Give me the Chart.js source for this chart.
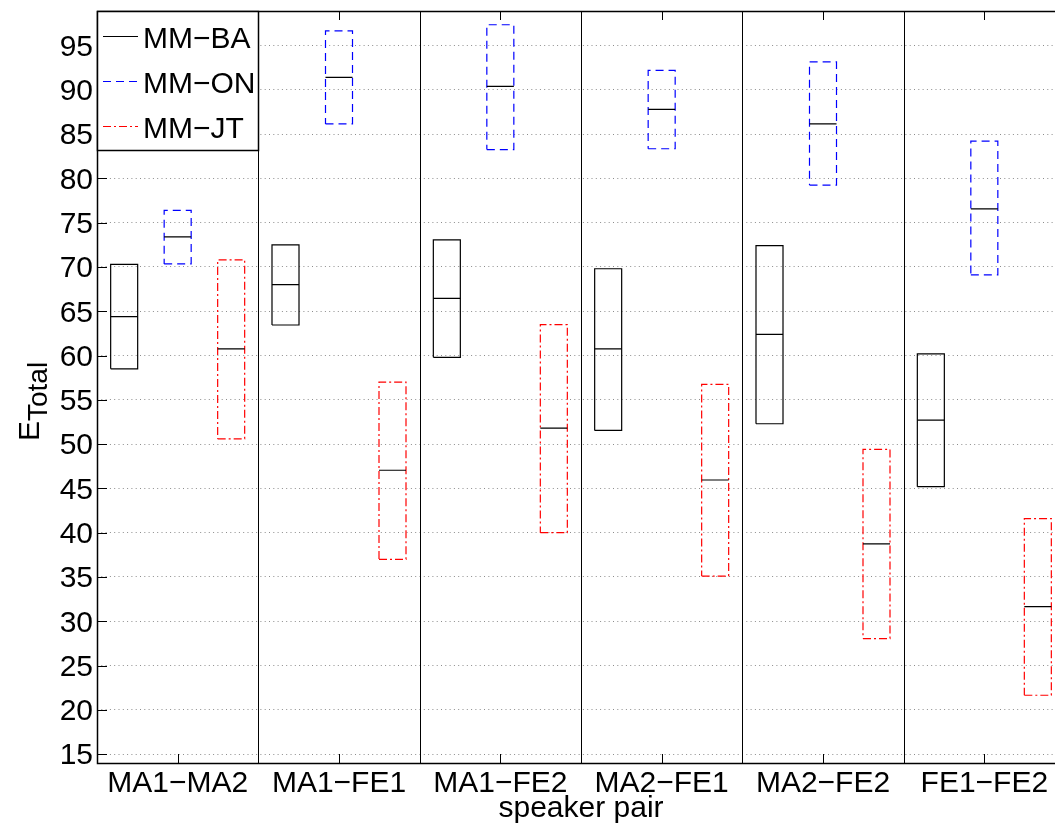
<!DOCTYPE html>
<html>
<head>
<meta charset="utf-8">
<script src="https://cdn.jsdelivr.net/npm/chart.js@4.4.1/dist/chart.umd.min.js"></script>
<style>
  html, body { margin: 0; padding: 0; background: #fff; overflow: hidden; }
</style>
</head>
<body>
<canvas id="boxChart" width="1070" height="828"></canvas>
<script>
// categories and series
var pairs = ['MA1\u2212MA2', 'MA1\u2212FE1', 'MA1\u2212FE2', 'MA2\u2212FE1', 'MA2\u2212FE2', 'FE1\u2212FE2'];
var methods = ['MM\u2212BA', 'MM\u2212ON', 'MM\u2212JT'];
var yTicks = [15, 20, 25, 30, 35, 40, 45, 50, 55, 60, 65, 70, 75, 80, 85, 90, 95];

// box bounds (lower edge, median, upper edge)
var baLow  = [58.5, 63.45, 59.8, 51.55, 52.3, 45.2];
var baMed  = [64.4, 68.0, 66.45, 60.75, 62.4, 52.7];
var baHigh = [70.3, 72.5, 73.05, 69.8, 72.4, 60.2];

var onLow  = [70.35, 86.15, 83.25, 83.35, 79.25, 69.1];
var onMed  = [73.4, 91.4, 90.4, 87.8, 86.15, 76.55];
var onHigh = [76.4, 96.65, 97.35, 92.2, 93.15, 84.2];

var jtLow  = [50.6, 37.0, 40.0, 35.1, 28.05, 21.65];
var jtMed  = [60.75, 47.05, 51.8, 45.95, 38.75, 31.65];
var jtHigh = [70.8, 57.0, 63.5, 56.75, 49.4, 41.6];

var FONT = 'Liberation Sans, Arial, Helvetica, sans-serif';
var colors = ['#000000', '#0000ff', '#ff0000'];
var dashes = [[], [8, 5], [8, 3, 2, 3]];
var boxOffset = [-0.3316, 0, 0.3316];
var halfW = 0.0837;

function boxOutline(lo, hi, k) {
    var pts = [];
    for (var i = 0; i < pairs.length; i++) {
        var x0 = i + boxOffset[k] - halfW, x1 = i + boxOffset[k] + halfW;
        pts.push({x: x0, y: lo[i]}, {x: x1, y: lo[i]}, {x: x1, y: hi[i]},
                 {x: x0, y: hi[i]}, {x: x0, y: lo[i]}, {x: x1, y: null});
    }
    return pts;
}

function medianLines(med, k) {
    var pts = [];
    for (var i = 0; i < pairs.length; i++) {
        var x0 = i + boxOffset[k] - halfW, x1 = i + boxOffset[k] + halfW;
        pts.push({x: x0, y: med[i]}, {x: x1, y: med[i]}, {x: x1, y: null});
    }
    return pts;
}

function outlineSet(k, lo, hi) {
    return {
        label: methods[k],
        data: boxOutline(lo, hi, k),
        borderColor: colors[k],
        borderDash: dashes[k],
        borderWidth: 1.2,
        pointRadius: 0,
        tension: 0,
        fill: false,
        spanGaps: false,
        order: 1
    };
}

function medianSet(k, med) {
    return {
        label: methods[k] + ' median',
        data: medianLines(med, k),
        borderColor: '#000',
        borderWidth: 1.2,
        pointRadius: 0,
        tension: 0,
        fill: false,
        spanGaps: false,
        order: 0
    };
}

function px(v) { return Math.round(v) + 0.5; }

// matlab style frame, inside ticks, separators, legend and y label
var matlabFrame = {
    id: 'matlabFrame',
    afterDraw: function(chart) {
        var ctx = chart.ctx, a = chart.chartArea, xs = chart.scales.x, ys = chart.scales.y;
        ctx.save();
        ctx.strokeStyle = '#000';
        ctx.lineWidth = 1;
        ctx.setLineDash([]);
        ctx.beginPath();
        for (var i = 0; i < pairs.length - 1; i++) {
            var sx = px(xs.getPixelForValue(i + 0.5));
            ctx.moveTo(sx, a.top); ctx.lineTo(sx, a.bottom);
        }
        for (var j = 0; j < pairs.length; j++) {
            var cx = px(xs.getPixelForValue(j));
            ctx.moveTo(cx, a.bottom); ctx.lineTo(cx, a.bottom - 9);
            ctx.moveTo(cx, a.top); ctx.lineTo(cx, a.top + 9);
        }
        yTicks.forEach(function(t) {
            var ty = px(ys.getPixelForValue(t));
            ctx.moveTo(a.left, ty); ctx.lineTo(a.left + 10, ty);
        });
        ctx.stroke();
        ctx.lineWidth = 1.5;
        ctx.strokeRect(px(a.left), px(a.top), Math.round(a.right - a.left), Math.round(a.bottom - a.top));

        // legend
        var lx = px(a.left), ly = px(a.top), lw = 161, lh = 139;
        ctx.fillStyle = '#fff';
        ctx.fillRect(lx, ly, lw, lh);
        ctx.strokeRect(lx, ly, lw, lh);
        ctx.font = '30px ' + FONT;
        ctx.textAlign = 'left';
        ctx.textBaseline = 'alphabetic';
        ctx.lineWidth = 1.2;
        for (var k = 0; k < methods.length; k++) {
            var yy = a.top + 25.5 + k * 45;
            ctx.strokeStyle = colors[k];
            ctx.setLineDash(dashes[k]);
            ctx.beginPath();
            ctx.moveTo(a.left + 6, yy); ctx.lineTo(a.left + 41, yy);
            ctx.stroke();
            ctx.fillStyle = '#000';
            ctx.fillText(methods[k], a.left + 46, yy + 11);
        }
        ctx.setLineDash([]);

        // y axis label E_Total
        ctx.translate(39, 441);
        ctx.rotate(-Math.PI / 2);
        ctx.fillStyle = '#000';
        ctx.font = '30px ' + FONT;
        ctx.fillText('E', 0, 0);
        var ew = ctx.measureText('E').width;
        ctx.font = '28px ' + FONT;
        ctx.fillText('Total', ew, 8);
        ctx.restore();
    }
};

var ctx = document.getElementById('boxChart').getContext('2d');
var boxChart = new Chart(ctx, {
    type: 'line',
    data: {
        datasets: [
            outlineSet(0, baLow, baHigh),
            outlineSet(1, onLow, onHigh),
            outlineSet(2, jtLow, jtHigh),
            medianSet(0, baMed),
            medianSet(1, onMed),
            medianSet(2, jtMed)
        ]
    },
    options: {
        responsive: false,
        animation: false,
        events: [],
        layout: { padding: { left: 0, top: 11, right: 5, bottom: 0 } },
        plugins: {
            legend: { display: false },
            tooltip: { enabled: false }
        },
        scales: {
            x: {
                type: 'linear',
                min: -0.5,
                max: 5.5,
                afterBuildTicks: function(s) {
                    s.ticks = pairs.map(function(p, i) { return {value: i}; });
                },
                afterFit: function(s) {
                    s.height = 65;
                    s.paddingLeft = 0;
                    s.paddingRight = 0;
                },
                grid: { display: false, drawTicks: false },
                border: { display: false },
                ticks: {
                    autoSkip: false,
                    maxRotation: 0,
                    padding: 3,
                    color: '#000',
                    font: { family: FONT, size: 30 },
                    callback: function(v) { return pairs[v]; }
                },
                title: {
                    display: true,
                    text: 'speaker pair',
                    color: '#000',
                    font: { family: FONT, size: 30 },
                    padding: { top: 0, bottom: 1 }
                }
            },
            y: {
                min: 14,
                max: 98.9,
                afterBuildTicks: function(s) {
                    s.ticks = yTicks.map(function(t) { return {value: t}; });
                },
                afterFit: function(s) {
                    s.width = 97;
                    s.paddingTop = 0;
                    s.paddingBottom = 0;
                },
                grid: { color: 'rgba(0,0,0,0.45)', lineWidth: 1, drawTicks: false },
                border: { display: false, dash: [1, 3.3] },
                ticks: {
                    padding: 4,
                    labelOffset: 2,
                    color: '#000',
                    font: { family: FONT, size: 30 }
                }
            }
        }
    },
    plugins: [matlabFrame]
});
</script>
</body>
</html>
